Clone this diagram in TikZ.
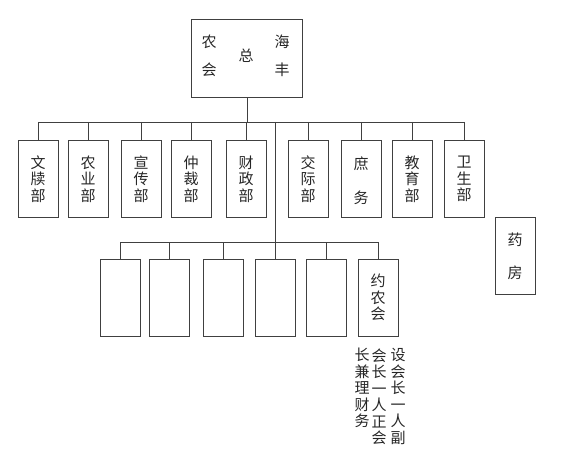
\documentclass[tikz,border=0pt]{standalone}
\usepackage{fontspec}
\setmainfont{Noto Sans CJK SC}
\usetikzlibrary{positioning}
\begin{document}
\begin{tikzpicture}[x=1pt,y=-1pt,draw=black!75,line width=0.9pt]
    \tikzstyle{box}=[draw=black!75,line width=0.9pt,minimum width=40pt,minimum height=77pt,inner sep=0pt]
    \tikzstyle{word}=[align=center,inner sep=0pt,text=black!85,font=\fontsize{15}{16.5}\selectfont]
    \useasboundingbox (0,0) rectangle (575,468);

    % Draw the head box
    \node[box,minimum width=111pt,minimum height=78pt] (head) at (246.5,58) {};
    \node[word] (h-1) at (209,42) {农};
    \node[word] (h-2) at (209,70) {会};
    \node[word] (h-3) at (246,56) {总};
    \node[word] (h-4) at (282,42) {海};
    \node[word] (h-5) at (282,70) {丰};

    % Draw the upper row of departments
    \foreach \name / \x in {1/38,2/88,3/141,4/191,5/246,6/308,7/361,8/412,9/464}
        \node[box] (D-\name) at (\x,179) {};
    \node[word] at (D-1) {文\\牍\\部};
    \node[word] at (D-2) {农\\业\\部};
    \node[word] at (D-3) {宣\\传\\部};
    \node[word] at (D-4) {仲\\裁\\部};
    \node[word] at (D-5) {财\\政\\部};
    \node[word] at (D-6) {交\\际\\部};
    \node[word,yshift=-1.5pt] at (D-7) {庶\\[18pt]务};
    \node[word] at (D-8) {教\\育\\部};
    \node[word] at (D-9) {卫\\生\\部};

    % The loose box on the right
    \node[box] (yf) at (515,255.5) {};
    \node[word,yshift=-1pt] (yf-t) at (yf) {药\\[16pt]房};

    % Draw the lower row of boxes
    \foreach \name / \x in {1/120,2/169,3/223,4/275,5/326,6/378}
        \node[box] (L-\name) at (\x,297.5) {};
    \node[word,below=15pt of L-6.north,anchor=north] (L-6-t) {约\\农\\会};

    % Notes under the last box, read right to left
    \node[word,anchor=north] (n-1) at (398,348) {设\\会\\长\\一\\人\\副};
    \node[word,anchor=north] (n-2) at (379,348) {会\\长\\一\\人\\正\\会};
    \node[word,anchor=north] (n-3) at (362,348) {长\\兼\\理\\财\\务};

    % Buses
    \coordinate (tbus) at (247,122);
    \coordinate (lbus) at (275,242);
    \draw (head.south -| tbus) -- (tbus);
    \draw (D-1.north |- tbus) -- (D-9.north |- tbus);
    \foreach \name in {1,...,9}
        \draw (D-\name.north |- tbus) -- (D-\name.north);
    \draw (tbus -| L-4.north) -- (L-4.north);
    \draw (L-1.north |- lbus) -- (L-6.north |- lbus);
    \foreach \name in {1,2,3,5,6}
        \draw (L-\name.north |- lbus) -- (L-\name.north);
\end{tikzpicture}
\end{document}
